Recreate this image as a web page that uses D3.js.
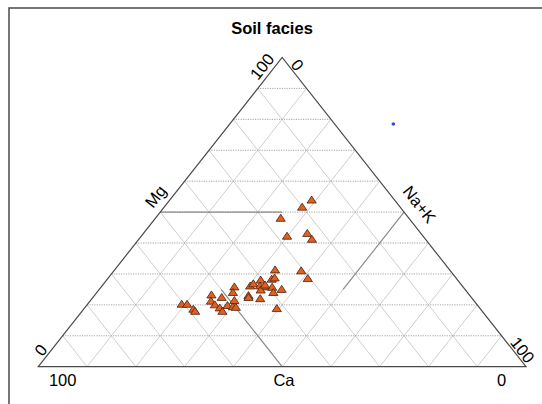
<!DOCTYPE html>
<html>
<head>
<meta charset="utf-8">
<script src="https://cdn.jsdelivr.net/npm/d3@7"></script>
<style>
  body { margin: 0; background: #fff; }
  text { font-family: "Liberation Sans", Arial, sans-serif; fill: #000; }
</style>
</head>
<body>
<div id="chart"></div>
<script>
// sample compositions in percent of cations
var caPct  = [17.0, 20.1, 26.3, 27.9, 23.3, 23.3, 35.8, 30.6, 30.5, 40.4,
              38.0, 37.2, 43.5, 42.5, 41.5, 40.6, 39.2, 37.6, 42.0, 39.8,
              46.9, 48.1, 45.4, 45.7, 43.5, 52.9, 51.2, 54.0, 53.8, 53.3,
              53.3, 51.3, 50.4, 49.1, 49.9, 60.5, 59.4, 58.9, 58.9, 41.7, 40.3];
var mgPct  = [53.9, 51.6, 48.0, 42.2, 43.1, 41.2, 31.3, 31.0, 28.5, 28.0,
              28.3, 28.7, 26.1, 26.8, 26.1, 25.8, 25.7, 25.0, 24.8, 24.0,
              25.8, 24.0, 23.0, 22.4, 22.0, 23.2, 22.4, 21.2, 20.0, 19.0,
              17.9, 19.8, 19.4, 21.4, 19.2, 20.2, 20.2, 18.6, 17.9, 18.8, 26.4];
var nakPct = [29.1, 28.3, 25.7, 29.9, 33.6, 35.5, 32.9, 38.4, 41.0, 31.6,
              33.7, 34.1, 30.4, 30.7, 32.4, 33.6, 35.1, 37.4, 33.2, 36.2,
              27.3, 27.9, 31.6, 31.9, 34.5, 23.9, 26.4, 24.8, 26.2, 27.7,
              28.8, 28.9, 30.2, 29.5, 30.9, 19.3, 20.4, 22.5, 23.2, 39.5, 33.3];
// stray point in plot units (x = Na+K + Mg/2, y = Mg)
var strayPoint = [72.8, 78.5];

var gridSteps = [10, 20, 30, 40, 50, 60, 70, 80, 90];
var title = "Soil facies";

var width = 542, height = 404;

var svg = d3.select("#chart")
    .append("svg")
    .attr("width", width)
    .attr("height", height);

var x = d3.scaleLinear().domain([0, 100]).range([38.3, 526]);
var y = d3.scaleLinear().domain([0, 100]).range([366.7, 57.5]);

// ternary -> screen
function px(ca, mg, na) { return x(na + mg / 2); }
function py(ca, mg, na) { return y(mg); }
function seg(a, b) {
  return { x1: px(a[0], a[1], a[2]), y1: py(a[0], a[1], a[2]),
           x2: px(b[0], b[1], b[2]), y2: py(b[0], b[1], b[2]) };
}

// frame (runs off the right and bottom)
svg.append("rect")
    .attr("x", 9).attr("y", 8)
    .attr("width", 560).attr("height", 420)
    .attr("fill", "none")
    .attr("stroke", "#555")
    .attr("stroke-width", 1.6);

svg.append("text")
    .attr("x", 272).attr("y", 34)
    .attr("text-anchor", "middle")
    .style("font-size", "16.5px")
    .style("font-weight", "bold")
    .text(title);

// grid
var diag = [];
var horiz = [];
gridSteps.forEach(function(v) {
  // constant Ca (parallel to right edge)
  diag.push(seg([v, 100 - v, 0], [v, 0, 100 - v]));
  // constant Na+K (parallel to left edge)
  diag.push(seg([100 - v, 0, v], [0, 100 - v, v]));
  // constant Mg
  horiz.push(seg([100 - v, v, 0], [0, v, 100 - v]));
});

svg.append("g").selectAll("line")
    .data(diag).enter().append("line")
    .attr("x1", function(d) { return d.x1; })
    .attr("y1", function(d) { return d.y1; })
    .attr("x2", function(d) { return d.x2; })
    .attr("y2", function(d) { return d.y2; })
    .attr("stroke", "#cfcfcf")
    .attr("stroke-width", 1);

svg.append("g").selectAll("line")
    .data(horiz).enter().append("line")
    .attr("x1", function(d) { return d.x1; })
    .attr("y1", function(d) { return d.y1; })
    .attr("x2", function(d) { return d.x2; })
    .attr("y2", function(d) { return d.y2; })
    .attr("stroke", "#9a9a9a")
    .attr("stroke-width", 0.9)
    .attr("stroke-dasharray", "1.2,1.2");

// facies division lines
var facies = [
  seg([50, 50, 0], [25, 50, 25]),
  seg([50, 0, 50], [50, 25, 25]),
  seg([0, 50, 50], [25, 25, 50])
];
svg.append("g").selectAll("line")
    .data(facies).enter().append("line")
    .attr("x1", function(d) { return d.x1; })
    .attr("y1", function(d) { return d.y1; })
    .attr("x2", function(d) { return d.x2; })
    .attr("y2", function(d) { return d.y2; })
    .attr("stroke", "#8a8a8a")
    .attr("stroke-width", 1.1);

// outline
var corners = [[100, 0, 0], [0, 100, 0], [0, 0, 100]];
svg.append("path")
    .attr("d", "M" + corners.map(function(c) { return px(c[0], c[1], c[2]) + "," + py(c[0], c[1], c[2]); }).join("L") + "Z")
    .attr("fill", "none")
    .attr("stroke", "#4a4a4a")
    .attr("stroke-width", 1.2);

// labels
var ang = Math.atan2(y(0) - y(100), x(50) - x(0)) * 180 / Math.PI;
function label(tx, ty, rot, s, size) {
  svg.append("text")
      .attr("transform", "translate(" + tx + "," + ty + ") rotate(" + rot + ")")
      .attr("text-anchor", "middle")
      .attr("dy", "0.35em")
      .style("font-size", (size || 16.5) + "px")
      .text(s);
}
label(262, 66.5, -ang, "100");
label(297.5, 65, ang, "0");
label(40.8, 350, -ang, "0");
label(522.5, 350, ang, "100");
label(155.5, 196.5, -ang, "Mg");
label(419.4, 204.4, ang, "Na+K");
label(62.7, 380, 0, "100");
label(284, 380.5, 0, "Ca");
label(501.7, 380, 0, "0");

// samples
var pts = caPct.map(function(c, i) { return [c, mgPct[i], nakPct[i]]; });
svg.append("g").selectAll("path")
    .data(pts).enter().append("path")
    .attr("transform", function(d) { return "translate(" + px(d[0], d[1], d[2]) + "," + py(d[0], d[1], d[2]) + ")"; })
    .attr("d", "M0,-4L4.6,3L-4.6,3Z")
    .attr("fill", "#e2601f")
    .attr("stroke", "#4a200c")
    .attr("stroke-width", 0.8);

svg.append("circle")
    .attr("cx", x(strayPoint[0]))
    .attr("cy", y(strayPoint[1]))
    .attr("r", 1.8)
    .attr("fill", "#3c46d8");
</script>
</body>
</html>
